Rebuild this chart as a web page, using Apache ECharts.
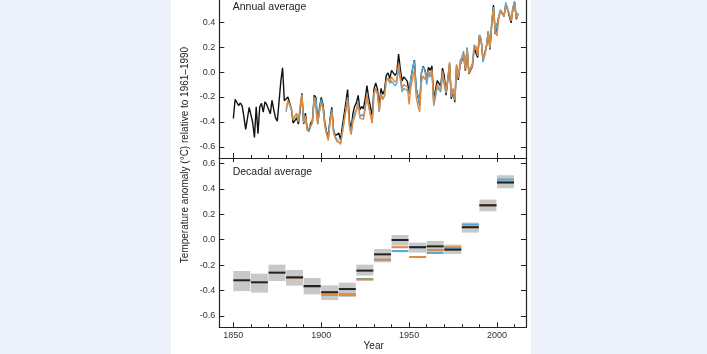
<!DOCTYPE html>
<html><head><meta charset="utf-8">
<script src="https://cdn.jsdelivr.net/npm/echarts@6/dist/echarts.min.js"></script>
<style>
html,body{margin:0;padding:0;background:#edf2fa;overflow:hidden;}
#panel{position:absolute;left:171px;top:0;width:360px;height:354px;background:#ffffff;}
#c{position:absolute;left:0;top:0;width:707px;height:354px;}
</style>
</head><body><div id="panel"></div><div id="c"></div>
<script>
// ---- data ----
const blackStart = 1850;
const blackAnnual = [
-0.373,-0.218,-0.228,-0.269,-0.248,-0.272,-0.358,-0.461,-0.467,-0.284,
-0.343,-0.407,-0.524,-0.278,-0.494,-0.279,-0.251,-0.321,-0.238,-0.262,
-0.276,-0.335,-0.227,-0.304,-0.368,-0.395,-0.384,-0.075,0.035,-0.230,
-0.227,-0.200,-0.213,-0.296,-0.409,-0.389,-0.367,-0.418,-0.307,-0.171,
-0.416,-0.330,-0.455,-0.473,-0.410,-0.390,-0.186,-0.206,-0.412,-0.289,
-0.203,-0.259,-0.402,-0.479,-0.520,-0.377,-0.283,-0.465,-0.511,-0.522,
-0.490,-0.544,-0.437,-0.424,-0.244,-0.141,-0.383,-0.468,-0.333,-0.275,
-0.247,-0.187,-0.302,-0.276,-0.294,-0.215,-0.108,-0.210,-0.206,-0.350,
-0.137,-0.087,-0.137,-0.273,-0.131,-0.178,-0.147,-0.026,-0.006,-0.052,
0.014,0.020,-0.027,-0.004,0.144,0.025,-0.071,-0.038,-0.039,-0.074,
-0.173,-0.052,0.028,0.097,-0.129,-0.190,-0.267,-0.007,0.046,0.017,
-0.049,0.038,0.014,0.048,-0.223,-0.140,-0.068,-0.074,-0.113,0.032,
-0.027,-0.186,-0.065,0.062,-0.214,-0.149,-0.241,0.047,-0.062,0.057,
0.092,0.140,0.011,0.194,-0.014,-0.030,0.045,0.192,0.198,0.118,
0.296,0.254,0.105,0.148,0.208,0.325,0.183,0.390,0.539,0.306,
0.294,0.441,0.496,0.505,0.447,0.545,0.506,0.491,0.395,0.506,
0.560,0.425,0.470];
const colourStart = 1880;
const orangeAnnual = [
-0.30,-0.23,-0.22,-0.29,-0.38,-0.38,-0.33,-0.40,-0.27,-0.18,
-0.40,-0.35,-0.47,-0.47,-0.43,-0.41,-0.21,-0.21,-0.41,-0.32,
-0.25,-0.29,-0.43,-0.50,-0.55,-0.40,-0.32,-0.49,-0.53,-0.56,
-0.55,-0.57,-0.49,-0.48,-0.31,-0.22,-0.43,-0.50,-0.40,-0.36,
-0.31,-0.26,-0.37,-0.36,-0.38,-0.30,-0.19,-0.28,-0.28,-0.41,
-0.17,-0.13,-0.17,-0.32,-0.17,-0.22,-0.19,-0.07,-0.05,-0.08,
-0.04,-0.03,-0.08,-0.06,0.07,-0.03,-0.13,-0.10,-0.10,-0.12,
-0.26,-0.12,-0.05,0.02,-0.20,-0.27,-0.32,-0.08,-0.03,-0.06,
-0.07,0.01,-0.02,0.02,-0.26,-0.17,-0.10,-0.10,-0.14,0.01,
0.00,-0.16,-0.05,0.08,-0.19,-0.13,-0.22,0.06,-0.04,0.05,
0.10,0.14,0.02,0.19,-0.01,-0.02,0.05,0.19,0.21,0.13,
0.29,0.26,0.11,0.15,0.21,0.31,0.19,0.40,0.52,0.32,
0.29,0.43,0.49,0.49,0.45,0.53,0.50,0.47,0.41,0.50,
0.55,0.43,0.47];
const blueAnnual = [
-0.32,-0.23,-0.24,-0.30,-0.38,-0.36,-0.34,-0.40,-0.29,-0.20,
-0.41,-0.36,-0.46,-0.48,-0.44,-0.39,-0.20,-0.22,-0.42,-0.31,
-0.22,-0.28,-0.42,-0.49,-0.53,-0.40,-0.30,-0.47,-0.52,-0.54,
-0.54,-0.58,-0.48,-0.47,-0.30,-0.20,-0.42,-0.50,-0.38,-0.33,
-0.30,-0.24,-0.36,-0.34,-0.36,-0.28,-0.17,-0.27,-0.27,-0.41,
-0.18,-0.13,-0.18,-0.32,-0.18,-0.22,-0.19,-0.07,-0.05,-0.09,
-0.07,-0.07,-0.11,-0.09,0.04,-0.06,-0.16,-0.13,-0.13,-0.15,
-0.17,-0.05,0.03,0.09,-0.13,-0.19,-0.26,0.00,0.04,0.02,
-0.10,-0.01,-0.04,0.00,-0.27,-0.20,-0.12,-0.12,-0.16,-0.03,
-0.02,-0.17,-0.06,0.07,-0.20,-0.14,-0.23,0.06,-0.05,0.09,
0.12,0.17,0.03,0.20,0.00,-0.01,0.07,0.22,0.23,0.15,
0.30,0.27,0.08,0.13,0.20,0.33,0.20,0.37,0.52,0.32,
0.31,0.45,0.50,0.50,0.45,0.56,0.51,0.51,0.42,0.52,
0.57,0.44,0.47];

const decades   = [1850,1860,1870,1880,1890,1900,1910,1920,1930,1940,1950,1960,1970,1980,1990,2000];
const decLow    = [-0.405,-0.417,-0.326,-0.362,-0.431,-0.476,-0.452,-0.283,-0.179,-0.047,-0.102,-0.098,-0.113,0.055,0.223,0.404];
const decHigh   = [-0.247,-0.268,-0.197,-0.239,-0.302,-0.360,-0.339,-0.197,-0.074,0.036,-0.024,-0.011,-0.039,0.134,0.315,0.506];
const decBlack  = [-0.320,-0.336,-0.260,-0.297,-0.365,-0.415,-0.389,-0.244,-0.116,-0.003,-0.060,-0.053,-0.079,0.097,0.270,0.449];
const decOrange = [null,null,null,-0.300,-0.373,-0.436,-0.436,-0.315,-0.157,-0.060,-0.137,-0.082,-0.060,0.100,0.270,0.452];
const decBlue   = [null,null,null,-0.300,-0.368,-0.412,-0.430,-0.310,-0.160,-0.090,-0.060,-0.105,-0.065,0.118,0.270,0.472];

const yTicks = [-0.6,-0.4,-0.2,0,0.2,0.4,0.6];
const majorYears = [1850,1900,1950,2000];
const minorYears = [1850,1860,1870,1880,1890,1900,1910,1920,1930,1940,1950,1960,1970,1980,1990,2000,2010];

// ---- styles ----
const FONT = '"Liberation Sans", Arial, sans-serif';
const AX = '#222';
const C_BLACK = '#111111', C_ORANGE = '#e08a3f', C_BLUE = '#4fa9dc', C_BOX = '#c8c8c8';
const X_MIN = 1842, X_MAX = 2016.5, Y_MIN = -0.69, Y_MAX = 0.642;

function xAx(grid, pos, opts) {
  return Object.assign({
    type: 'value', gridIndex: grid, position: pos, min: X_MIN, max: X_MAX,
    axisLine: {show: true, onZero: false, lineStyle: {color: AX, width: 1.2}},
    axisTick: {show: false}, axisLabel: {show: false}, splitLine: {show: false}
  }, opts);
}
function yAx(grid, pos, labels) {
  return {
    type: 'value', gridIndex: grid, position: pos, min: Y_MIN, max: Y_MAX,
    axisLine: {show: true, onZero: false, lineStyle: {color: AX, width: 1.2}},
    axisTick: {show: true, inside: true, length: 5, customValues: yTicks, lineStyle: {color: AX, width: 1}},
    axisLabel: labels ? {show: true, customValues: yTicks, margin: 4, fontSize: 9, fontFamily: FONT, color: '#333',
      formatter: v => Number(v).toFixed(1)} : {show: false},
    splitLine: {show: false}
  };
}
const hiddenLine = {show: false, onZero: false};

const xAxes = [
  xAx(0, 'bottom', {axisTick: {show: true, inside: true, length: 5, customValues: majorYears, lineStyle: {color: AX}}}),
  xAx(0, 'bottom', {axisLine: hiddenLine, axisTick: {show: true, inside: true, length: 3, customValues: minorYears, lineStyle: {color: AX}}}),
  xAx(0, 'top', {}),
  xAx(1, 'bottom', {axisTick: {show: true, inside: true, length: 5, customValues: majorYears, lineStyle: {color: AX}},
    axisLabel: {show: true, customValues: majorYears, margin: 4, fontSize: 9, fontFamily: FONT, color: '#333',
      formatter: v => String(Math.round(v))}}),
  xAx(1, 'bottom', {axisLine: hiddenLine, axisTick: {show: true, inside: true, length: 3, customValues: minorYears, lineStyle: {color: AX}}}),
  xAx(1, 'top', {axisTick: {show: true, inside: true, length: 4, customValues: majorYears, lineStyle: {color: AX}}})
];
const yAxes = [yAx(0, 'left', true), yAx(0, 'right', false), yAx(1, 'left', true), yAx(1, 'right', false)];

function annual(arr, start) { return arr.map((v, i) => [start + i, v]); }
function lineSeries(name, arr, start, color, z) {
  return {name, type: 'line', xAxisIndex: 0, yAxisIndex: 0, data: annual(arr, start), showSymbol: false,
    symbol: 'none', lineStyle: {color, width: 1.4}, z, animation: false, silent: true};
}

function boxRender(params, api) {
  const p0 = api.coord([api.value(0), api.value(3)]);
  const p1 = api.coord([api.value(1), api.value(2)]);
  return {type: 'rect', shape: {x: p0[0], y: p0[1], width: p1[0] - p0[0] - 0.6, height: p1[1] - p0[1]},
    style: {fill: C_BOX}};
}
function segRender(color) {
  return function (params, api) {
    const p0 = api.coord([api.value(0), api.value(2)]);
    const p1 = api.coord([api.value(1), api.value(2)]);
    return {type: 'line', shape: {x1: p0[0], y1: p0[1], x2: p1[0] - 0.6, y2: p1[1]},
      style: {stroke: color, lineWidth: 2}};
  };
}
function segData(vals) {
  return decades.map((d, i) => vals[i] == null ? null : [d, d + 10, vals[i]]).filter(x => x);
}

const chart = echarts.init(document.getElementById('c'), null, {renderer: 'canvas'});
chart.setOption({
  animation: false,
  backgroundColor: 'transparent',
  grid: [
    {left: 219.3, right: 181, top: -7.8, height: 165.8, outerBoundsMode: 'none', containLabel: false},
    {left: 219.3, right: 181, top: 158, height: 169.3, outerBoundsMode: 'none', containLabel: false}
  ],
  xAxis: xAxes,
  yAxis: yAxes,
  graphic: {elements: [
    {type: 'text', x: 232.7, y: 6.7, style: {text: 'Annual average', font: '10.5px ' + FONT, fill: '#222', textVerticalAlign: 'middle'}},
    {type: 'text', x: 232.7, y: 172.3, style: {text: 'Decadal average', font: '10.5px ' + FONT, fill: '#222', textVerticalAlign: 'middle'}},
    {type: 'text', x: 185, y: 155, rotation: Math.PI / 2, style: {text: 'Temperature anomaly (°C) relative to 1961–1990', font: '10px ' + FONT, fill: '#222', textAlign: 'center', textVerticalAlign: 'middle'}},
    {type: 'text', x: 373.7, y: 346.7, style: {text: 'Year', font: '10px ' + FONT, fill: '#222', textAlign: 'center', textVerticalAlign: 'middle'}}
  ]},
  series: [
    lineSeries('HadCRUT4', blackAnnual, blackStart, C_BLACK, 2),
    lineSeries('GISS', blueAnnual, colourStart, C_BLUE, 3),
    lineSeries('NCDC', orangeAnnual, colourStart, C_ORANGE, 4),
    {type: 'custom', xAxisIndex: 3, yAxisIndex: 2, renderItem: boxRender, encode: {x: [0, 1], y: [2, 3]},
      data: decades.map((d, i) => [d, d + 10, decLow[i], decHigh[i]]), z: 1, animation: false, silent: true},
    {type: 'custom', xAxisIndex: 3, yAxisIndex: 2, renderItem: segRender(C_BLUE), encode: {x: [0, 1], y: 2},
      data: segData(decBlue), z: 2, animation: false, silent: true},
    {type: 'custom', xAxisIndex: 3, yAxisIndex: 2, renderItem: segRender(C_ORANGE), encode: {x: [0, 1], y: 2},
      data: segData(decOrange), z: 3, animation: false, silent: true},
    {type: 'custom', xAxisIndex: 3, yAxisIndex: 2, renderItem: segRender('#222'), encode: {x: [0, 1], y: 2},
      data: segData(decBlack), z: 4, animation: false, silent: true}
  ]
});
</script>
</body></html>
